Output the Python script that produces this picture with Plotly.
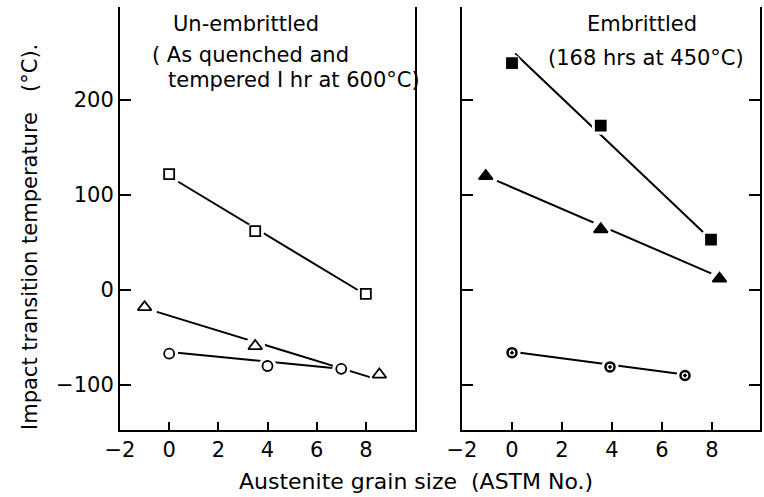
import plotly.graph_objects as go

# ---- Data: Un-embrittled (left panel) ----
L_sq_x = [0, 3.5, 8]
L_sq_y = [122, 62, -4]
L_tri_x = [-1, 3.5, 8.55]
L_tri_y = [-18, -59, -89]
L_cir_x = [0, 4, 7]
L_cir_y = [-67, -80, -83]
# fitted line end points
L_sq_fit_x = [0.37, 7.67]
L_sq_fit_y = [114, 0]
L_tri_fit_x = [-0.5, 8.2]
L_tri_fit_y = [-23, -92]
L_cir_fit_x = [0.33, 6.65]
L_cir_fit_y = [-66, -82]

# ---- Data: Embrittled (right panel) ----
R_sq_x = [0, 3.55, 7.96]
R_sq_y = [239, 173, 53]
R_tri_x = [-1.05, 3.55, 8.3]
R_tri_y = [120, 64, 12]
R_cir_x = [0, 3.92, 6.92]
R_cir_y = [-66, -81, -90]
R_sq_fit_x = [0.12, 7.64]
R_sq_fit_y = [249, 61]
R_tri_fit_x = [-0.6, 8.1]
R_tri_fit_y = [115, 16]
R_cir_fit_x = [0.32, 6.6]
R_cir_fit_y = [-66, -88]

x_ticks = [-2, 0, 2, 4, 6, 8]
y_ticks = [-100, 0, 100, 200]

FONT = "DejaVu Sans"
fig = go.Figure()

def add_line(x, y, xa, ya):
    fig.add_trace(go.Scatter(x=x, y=y, mode="lines", xaxis=xa, yaxis=ya,
                             line=dict(color="black", width=2), showlegend=False,
                             hoverinfo="skip"))

def add_marks(x, y, xa, ya, symbol, size, fill, lw=1.8):
    # white halo to break the line around each point
    fig.add_trace(go.Scatter(x=x, y=y, mode="markers", xaxis=xa, yaxis=ya,
                             marker=dict(symbol="circle", size=size + 8, color="white",
                                         line=dict(width=0)),
                             showlegend=False, hoverinfo="skip"))
    fig.add_trace(go.Scatter(x=x, y=y, mode="markers", xaxis=xa, yaxis=ya,
                             marker=dict(symbol=symbol, size=size, color=fill,
                                         line=dict(color="black", width=lw)),
                             showlegend=False))

# left panel
add_line(L_sq_fit_x, L_sq_fit_y, "x", "y")
add_line(L_tri_fit_x, L_tri_fit_y, "x", "y")
add_line(L_cir_fit_x, L_cir_fit_y, "x", "y")
add_marks(L_sq_x, L_sq_y, "x", "y", "square", 10, "white")
add_marks(L_tri_x, L_tri_y, "x", "y", "triangle-up", 12, "white")
add_marks(L_cir_x, L_cir_y, "x", "y", "circle", 10, "white")

# right panel
add_line(R_sq_fit_x, R_sq_fit_y, "x2", "y2")
add_line(R_tri_fit_x, R_tri_fit_y, "x2", "y2")
add_line(R_cir_fit_x, R_cir_fit_y, "x2", "y2")
add_marks(R_sq_x, R_sq_y, "x2", "y2", "square", 10, "black")
add_marks(R_tri_x, R_tri_y, "x2", "y2", "triangle-up", 12, "black")
add_marks(R_cir_x, R_cir_y, "x2", "y2", "circle-open-dot", 9, "black", lw=2.5)

ydom = [1 - 430 / 497, 1 - 7 / 497]
yrange = [-147.4, 298]

axis_common = dict(showgrid=False, zeroline=False, showline=True, linecolor="black",
                   linewidth=2, ticks="inside", tickcolor="black", tickwidth=1.5,
                   automargin=False,
                   tickfont=dict(family=FONT, size=21, color="black"))

fig.update_layout(
    width=764, height=497,
    margin=dict(l=0, r=0, t=0, b=0, pad=0),
    paper_bgcolor="white", plot_bgcolor="white",
    xaxis=dict(domain=[120 / 764, 415 / 764], range=[-2, 10], tickvals=x_ticks,
               ticklen=8, anchor="y", **axis_common),
    yaxis=dict(domain=ydom, range=yrange, tickvals=y_ticks, ticklen=11, mirror=True,
               anchor="x", **axis_common),
    xaxis2=dict(domain=[462 / 764, 760 / 764], range=[-2, 9.92], tickvals=x_ticks,
                ticklen=8, anchor="y2", **axis_common),
    yaxis2=dict(domain=ydom, range=yrange, tickvals=y_ticks, ticklen=11, mirror="ticks",
                showticklabels=False, anchor="x2", **axis_common),
)

tf = dict(family=FONT, size=21, color="black")
ann = [
    dict(text="Un-embrittled", x=246, y=24),
    dict(text="( As quenched and", x=150, y=55, xanchor="left"),
    dict(text="tempered I hr at 600°C)", x=166, y=80, xanchor="left"),
    dict(text="Embrittled", x=642, y=24),
    dict(text="(168 hrs at 450°C)", x=546, y=58, xanchor="left"),
    dict(text="Austenite grain size  (ASTM No.)", x=416, y=481, size=22),
]
for a in ann:
    fig.add_annotation(xref="paper", yref="paper", x=a["x"] / 764, y=1 - a["y"] / 497,
                       text=a["text"], showarrow=False,
                       font=dict(family=FONT, size=a.get("size", 21), color="black"),
                       xanchor=a.get("xanchor", "center"), yanchor="middle")
fig.add_annotation(xref="paper", yref="paper", x=30 / 764, y=1 - 237 / 497,
                   text="Impact transition temperature   (°C).", textangle=-90,
                   showarrow=False, font=dict(family=FONT, size=21, color="black"),
                   xanchor="center", yanchor="middle")

fig.write_html("out.html")
